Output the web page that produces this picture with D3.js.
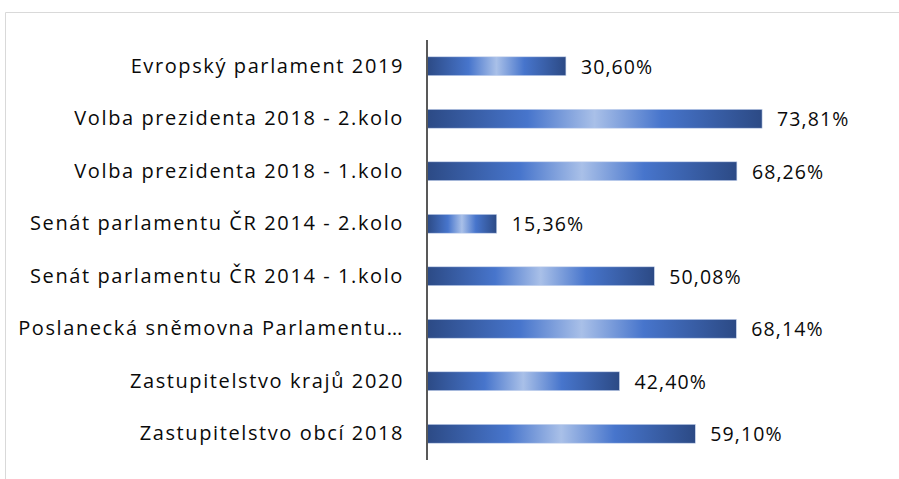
<!DOCTYPE html>
<html><head><meta charset="utf-8">
<script src="https://cdn.jsdelivr.net/npm/d3@7"></script>
<style>body{margin:0;background:#fff}</style>
</head><body>
<svg id="c" width="899" height="479"></svg>
<script>
const categories = [
  "Evropský parlament 2019",
  "Volba prezidenta 2018 - 2.kolo",
  "Volba prezidenta 2018 - 1.kolo",
  "Senát parlamentu ČR 2014 - 2.kolo",
  "Senát parlamentu ČR 2014 - 1.kolo",
  "Poslanecká sněmovna Parlamentu…",
  "Zastupitelstvo krajů 2020",
  "Zastupitelstvo obcí 2018"
];
const values = [30.60, 73.81, 68.26, 15.36, 50.08, 68.14, 42.40, 59.10];
const valueLabels = ["30,60%", "73,81%", "68,26%", "15,36%", "50,08%", "68,14%", "42,40%", "59,10%"];

const svg = d3.select("#c");
// frame
svg.append("path").attr("d", "M5.5,479 V12.5 H899").attr("fill", "none").attr("stroke", "#d9d9d9").attr("stroke-width", 1);

const x = d3.scaleLinear().domain([0, 100]).range([427, 881]);
const y = d3.scaleBand().domain(categories).range([40, 460]).paddingInner(0.64).paddingOuter(0.32);

const defs = svg.append("defs");
const g = defs.append("linearGradient").attr("id", "bg").attr("x1", "0").attr("x2", "1").attr("y1", "0").attr("y2", "0");
[[0, "#2c4a85"], [0.3, "#4775cc"], [0.5, "#a9c0e8"], [0.7, "#4775cc"], [1, "#2c4a85"]].forEach(([o, c]) =>
  g.append("stop").attr("offset", o).attr("stop-color", c));

svg.selectAll("rect.bar").data(values).join("rect")
  .attr("class", "bar")
  .attr("x", x(0))
  .attr("y", (d, i) => y(categories[i]))
  .attr("width", d => x(d) - x(0))
  .attr("height", y.bandwidth())
  .attr("fill", "url(#bg)")
  .attr("stroke", "#c9d6ee").attr("stroke-width", 0.6);

svg.selectAll("text.val").data(values).join("text")
  .attr("class", "val")
  .attr("x", d => x(d) + 15)
  .attr("y", (d, i) => y(categories[i]) + y.bandwidth() / 2)
  .attr("dy", "0.38em")
  .attr("font-family", "Open Sans, sans-serif")
  .attr("font-size", 19.5)
  .attr("letter-spacing", 1.1)
  .attr("fill", "#0a0a0a")
  .text((d, i) => valueLabels[i]);

const axis = d3.axisLeft(y).tickSize(0).tickPadding(23);
const ag = svg.append("g").attr("transform", `translate(${x(0)},0)`).call(axis);
ag.select(".domain").attr("stroke", "#595959").attr("stroke-width", 2).attr("d", "M0,40V460");
ag.selectAll("text").attr("font-family", "Open Sans, sans-serif").attr("font-size", 20)
  .attr("letter-spacing", 1.6).attr("fill", "#0a0a0a");
</script>
</body></html>
